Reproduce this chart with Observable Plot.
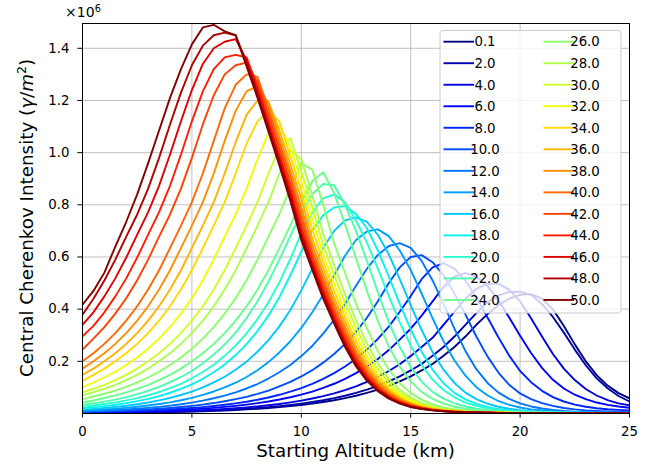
<!DOCTYPE html>
<html><head><meta charset="utf-8">
<script src="https://cdn.jsdelivr.net/npm/d3@7"></script>
<script src="https://cdn.jsdelivr.net/npm/@observablehq/plot@0.6"></script>
<style>body{margin:0;background:#fff;} svg{display:block;}</style>
</head><body><div id="chart"></div>
<script>
// Starting altitude (km)
const altitude = [0,0.5,1,1.5,2,2.5,3,3.5,4,4.5,5,5.5,6,6.5,7,7.5,8,8.5,9,9.5,10,10.5,11,11.5,12,12.5,13,13.5,14,14.5,15,15.5,16,16.5,17,17.5,18,18.5,19,19.5,20,20.5,21,21.5,22,22.5,23,23.5,24,24.5,25];
const xTicks = [0,5,10,15,20,25];
const yTicks = [0.2,0.4,0.6,0.8,1.0,1.2,1.4];
const seriesLabels = ["0.1","2.0","4.0","6.0","8.0","10.0","12.0","14.0","16.0","18.0","20.0","22.0","24.0","26.0","28.0","30.0","32.0","34.0","36.0","38.0","40.0","42.0","44.0","46.0","48.0","50.0"];

// Central Cherenkov intensity, units of 1e6 photons/m^2
const s0_1 = [0.0017,0.002,0.0023,0.0027,0.0031,0.0036,0.0042,0.0048,0.0056,0.0065,0.0075,0.0087,0.0101,0.0117,0.0136,0.0157,0.0182,0.021,0.0244,0.0282,0.0327,0.0379,0.0439,0.0508,0.059,0.0682,0.079,0.0915,0.106,0.123,0.142,0.165,0.19,0.221,0.255,0.295,0.34,0.38,0.415,0.44,0.455,0.458,0.44,0.4,0.335,0.265,0.2,0.147,0.107,0.078,0.058];
const s2 = [0.002,0.0023,0.0027,0.0031,0.0036,0.0042,0.0048,0.0056,0.0065,0.0075,0.0087,0.0101,0.0117,0.0136,0.0157,0.0182,0.021,0.0244,0.0282,0.0327,0.0379,0.0439,0.0508,0.059,0.0682,0.079,0.0915,0.106,0.123,0.142,0.165,0.19,0.221,0.255,0.295,0.34,0.385,0.425,0.452,0.466,0.467,0.455,0.42,0.37,0.31,0.245,0.185,0.135,0.097,0.067,0.046];
const s4 = [0.0025,0.0029,0.0034,0.0039,0.0045,0.0053,0.0061,0.0071,0.0082,0.0095,0.011,0.0128,0.015,0.0174,0.0202,0.0235,0.0272,0.0316,0.0366,0.0426,0.0494,0.0574,0.0666,0.077,0.0897,0.104,0.121,0.14,0.163,0.189,0.22,0.255,0.29,0.34,0.39,0.44,0.478,0.497,0.498,0.475,0.43,0.365,0.295,0.228,0.172,0.128,0.094,0.069,0.051,0.039,0.031];
const s6 = [0.0035,0.0041,0.0047,0.0055,0.0064,0.0075,0.0087,0.0101,0.0118,0.0137,0.016,0.0186,0.0216,0.0252,0.0292,0.034,0.0396,0.046,0.0536,0.0622,0.0725,0.084,0.098,0.114,0.133,0.155,0.18,0.209,0.243,0.283,0.325,0.375,0.43,0.485,0.525,0.538,0.525,0.49,0.435,0.368,0.298,0.232,0.175,0.129,0.096,0.072,0.055,0.042,0.033,0.027,0.022];
const s8 = [0.0045,0.0052,0.0061,0.0071,0.0083,0.0097,0.0113,0.0132,0.0154,0.018,0.021,0.0245,0.0285,0.0333,0.0388,0.0452,0.0527,0.0615,0.0717,0.0836,0.0975,0.114,0.133,0.155,0.18,0.21,0.245,0.286,0.333,0.39,0.45,0.515,0.56,0.576,0.555,0.51,0.445,0.37,0.293,0.222,0.163,0.12,0.087,0.063,0.046,0.034,0.026,0.02,0.0163,0.0137,0.012];
const s10 = [0.006,0.007,0.0082,0.0096,0.0113,0.0132,0.0155,0.0182,0.0213,0.025,0.0293,0.0342,0.04,0.047,0.055,0.064,0.075,0.088,0.104,0.121,0.142,0.166,0.195,0.228,0.267,0.313,0.367,0.43,0.5,0.56,0.6,0.607,0.58,0.53,0.46,0.38,0.295,0.22,0.158,0.11,0.077,0.055,0.04,0.029,0.021,0.016,0.012,0.0098,0.0083,0.0073,0.0065];
const s12 = [0.008,0.0094,0.0111,0.0131,0.0155,0.0183,0.0216,0.0255,0.0301,0.0355,0.0419,0.0494,0.0583,0.0688,0.0812,0.0959,0.113,0.134,0.158,0.186,0.22,0.259,0.306,0.36,0.42,0.49,0.555,0.608,0.642,0.653,0.635,0.585,0.51,0.42,0.325,0.24,0.17,0.118,0.081,0.056,0.039,0.027,0.019,0.0135,0.0097,0.0072,0.0055,0.0044,0.0037,0.0032,0.0028];
const s14 = [0.011,0.013,0.0155,0.0183,0.0217,0.0257,0.0305,0.0362,0.0428,0.0508,0.0601,0.0712,0.0844,0.1,0.118,0.14,0.166,0.197,0.234,0.277,0.328,0.388,0.455,0.53,0.605,0.665,0.698,0.706,0.68,0.625,0.55,0.46,0.365,0.277,0.203,0.145,0.101,0.07,0.048,0.033,0.023,0.016,0.0115,0.0084,0.0063,0.0049,0.004,0.0034,0.003,0.0027,0.0025];
const s16 = [0.015,0.0178,0.0212,0.0252,0.0299,0.0356,0.0422,0.0502,0.0596,0.0708,0.0841,0.1,0.119,0.141,0.168,0.199,0.237,0.281,0.334,0.397,0.472,0.555,0.635,0.70,0.74,0.752,0.735,0.685,0.61,0.515,0.415,0.32,0.235,0.168,0.117,0.08,0.055,0.038,0.026,0.018,0.0128,0.0093,0.007,0.0055,0.0045,0.0038,0.0033,0.0029,0.0026,0.0024,0.0022];
const s18 = [0.02,0.0238,0.0283,0.0336,0.0399,0.0474,0.0563,0.0669,0.0795,0.0945,0.112,0.133,0.158,0.188,0.224,0.266,0.316,0.375,0.446,0.53,0.62,0.70,0.76,0.79,0.795,0.765,0.71,0.625,0.525,0.42,0.322,0.237,0.168,0.116,0.079,0.054,0.037,0.025,0.017,0.012,0.0088,0.0067,0.0052,0.0043,0.0036,0.0031,0.0027,0.0024,0.0022,0.002,0.0018];
const s20 = [0.026,0.0307,0.0362,0.0426,0.0502,0.0592,0.0698,0.0823,0.097,0.114,0.135,0.159,0.187,0.221,0.26,0.307,0.362,0.426,0.503,0.593,0.69,0.77,0.825,0.84,0.81,0.74,0.655,0.555,0.45,0.35,0.26,0.186,0.13,0.09,0.062,0.042,0.029,0.02,0.014,0.01,0.0075,0.0058,0.0046,0.0038,0.0032,0.0028,0.0025,0.0022,0.002,0.0018,0.0017];
const s22 = [0.033,0.039,0.0456,0.053,0.063,0.074,0.087,0.102,0.12,0.14,0.163,0.193,0.226,0.265,0.31,0.366,0.43,0.505,0.59,0.68,0.77,0.84,0.88,0.875,0.8,0.7,0.585,0.465,0.35,0.255,0.178,0.122,0.083,0.057,0.039,0.027,0.0185,0.013,0.0093,0.007,0.0054,0.0044,0.0037,0.0031,0.0027,0.0024,0.0021,0.0019,0.0018,0.0016,0.0015];
const s24 = [0.042,0.05,0.0595,0.0695,0.081,0.0945,0.11,0.128,0.148,0.172,0.2,0.231,0.267,0.308,0.356,0.411,0.475,0.549,0.634,0.72,0.81,0.89,0.925,0.845,0.725,0.595,0.47,0.355,0.257,0.18,0.123,0.083,0.056,0.038,0.026,0.018,0.0125,0.009,0.0067,0.0052,0.0042,0.0037,0.0031,0.0027,0.0024,0.0021,0.0019,0.0018,0.0016,0.0015,0.0014];
const s26 = [0.054,0.0653,0.0758,0.088,0.102,0.119,0.138,0.16,0.186,0.215,0.248,0.287,0.331,0.383,0.442,0.511,0.59,0.678,0.765,0.865,0.96,0.935,0.8,0.653,0.539,0.42,0.326,0.239,0.168,0.116,0.079,0.053,0.035,0.023,0.016,0.011,0.0078,0.0057,0.0043,0.0034,0.0028,0.0024,0.0021,0.0019,0.0017,0.0016,0.0015,0.0014,0.0013,0.0012,0.0012];
const s28 = [0.07,0.0816,0.0948,0.11,0.128,0.148,0.172,0.2,0.231,0.267,0.308,0.356,0.411,0.475,0.549,0.634,0.72,0.81,0.92,1.01,0.975,0.837,0.689,0.568,0.457,0.359,0.269,0.191,0.133,0.091,0.061,0.041,0.027,0.018,0.0125,0.0088,0.0063,0.0048,0.0037,0.003,0.0025,0.0022,0.002,0.0018,0.0017,0.0016,0.0015,0.0014,0.0013,0.0012,0.0012];
const s30 = [0.081,0.0948,0.11,0.128,0.148,0.172,0.2,0.231,0.267,0.308,0.356,0.411,0.475,0.549,0.634,0.72,0.81,0.92,1.02,1.055,0.929,0.791,0.646,0.532,0.424,0.33,0.242,0.17,0.118,0.08,0.054,0.036,0.024,0.016,0.0113,0.008,0.0058,0.0044,0.0035,0.0028,0.0024,0.0021,0.0019,0.0017,0.0016,0.0015,0.0014,0.0013,0.0012,0.0012,0.0011];
const s32 = [0.1,0.119,0.138,0.16,0.186,0.215,0.248,0.287,0.331,0.383,0.442,0.511,0.59,0.678,0.763,0.862,0.975,1.075,1.105,1.02,0.89,0.746,0.61,0.497,0.394,0.302,0.218,0.152,0.105,0.071,0.048,0.032,0.0212,0.0147,0.0102,0.0073,0.0053,0.0041,0.0032,0.0026,0.0022,0.002,0.0018,0.0016,0.0015,0.0014,0.0013,0.0012,0.0012,0.0011,0.001];
const s34 = [0.124,0.148,0.172,0.2,0.231,0.267,0.308,0.356,0.411,0.475,0.549,0.634,0.72,0.81,0.92,1.035,1.12,1.16,1.12,0.986,0.854,0.707,0.581,0.47,0.37,0.279,0.2,0.139,0.095,0.064,0.043,0.029,0.0195,0.0135,0.0095,0.0068,0.005,0.0039,0.0031,0.0025,0.0022,0.0019,0.0017,0.0016,0.0014,0.0013,0.0013,0.0012,0.0012,0.0011,0.001];
const s36 = [0.148,0.172,0.2,0.231,0.267,0.308,0.356,0.411,0.475,0.549,0.634,0.72,0.81,0.92,1.04,1.145,1.2,1.195,1.085,0.955,0.821,0.671,0.555,0.444,0.349,0.258,0.183,0.127,0.087,0.058,0.039,0.026,0.0175,0.0122,0.0087,0.0062,0.0046,0.0036,0.0029,0.0024,0.0021,0.0019,0.0017,0.0015,0.0014,0.0013,0.0013,0.0012,0.0011,0.0011,0.001];
const s38 = [0.172,0.2,0.231,0.267,0.308,0.356,0.411,0.475,0.549,0.634,0.72,0.81,0.92,1.045,1.16,1.235,1.255,1.189,1.059,0.929,0.791,0.646,0.532,0.424,0.33,0.242,0.17,0.118,0.08,0.054,0.036,0.024,0.016,0.0113,0.008,0.0058,0.0043,0.0033,0.0027,0.0023,0.002,0.0018,0.0016,0.0015,0.0014,0.0013,0.0012,0.0012,0.0011,0.0011,0.001];
const s40 = [0.2,0.231,0.267,0.308,0.356,0.411,0.475,0.549,0.634,0.72,0.81,0.92,1.045,1.17,1.26,1.30,1.29,1.166,1.036,0.907,0.764,0.624,0.511,0.406,0.313,0.228,0.16,0.11,0.0745,0.05,0.033,0.022,0.015,0.0105,0.0075,0.0055,0.0041,0.0032,0.0026,0.0022,0.0019,0.0017,0.0016,0.0014,0.0013,0.0013,0.0012,0.0012,0.0011,0.0011,0.001];
const s42 = [0.245,0.287,0.331,0.383,0.442,0.511,0.59,0.678,0.763,0.862,0.98,1.108,1.22,1.30,1.335,1.345,1.27,1.145,1.015,0.885,0.74,0.605,0.493,0.39,0.298,0.215,0.15,0.103,0.07,0.047,0.031,0.021,0.0145,0.01,0.0072,0.0052,0.004,0.0031,0.0025,0.0022,0.0019,0.0017,0.0015,0.0014,0.0013,0.0013,0.0012,0.0012,0.0011,0.0011,0.001];
const s44 = [0.296,0.336,0.388,0.449,0.518,0.598,0.686,0.772,0.873,0.993,1.12,1.235,1.32,1.365,1.375,1.365,1.251,1.124,0.994,0.863,0.716,0.587,0.476,0.376,0.284,0.204,0.142,0.097,0.066,0.044,0.029,0.02,0.0137,0.0096,0.0069,0.0051,0.0039,0.0031,0.0025,0.0021,0.0019,0.0017,0.0015,0.0014,0.0013,0.0013,0.0012,0.0011,0.0011,0.001,0.001];
const s46 = [0.34,0.388,0.449,0.518,0.598,0.686,0.772,0.873,0.993,1.12,1.24,1.34,1.40,1.425,1.435,1.354,1.234,1.106,0.976,0.843,0.695,0.572,0.461,0.363,0.272,0.194,0.135,0.092,0.062,0.042,0.0274,0.0186,0.013,0.0091,0.0065,0.0049,0.0037,0.003,0.0024,0.0021,0.0018,0.0016,0.0015,0.0014,0.0013,0.0012,0.0012,0.0011,0.0011,0.001,0.001];
const s48 = [0.379,0.44,0.51,0.59,0.678,0.763,0.862,0.98,1.108,1.23,1.335,1.41,1.45,1.46,1.45,1.342,1.222,1.093,0.963,0.829,0.68,0.561,0.451,0.354,0.264,0.187,0.13,0.089,0.06,0.04,0.026,0.018,0.0125,0.0088,0.0062,0.0047,0.0036,0.0029,0.0024,0.002,0.0018,0.0016,0.0015,0.0014,0.0013,0.0012,0.0012,0.0011,0.0011,0.001,0.001];
const s50 = [0.417,0.47,0.54,0.64,0.735,0.84,0.96,1.085,1.21,1.32,1.415,1.48,1.49,1.465,1.45,1.33,1.21,1.08,0.95,0.815,0.665,0.55,0.44,0.345,0.255,0.18,0.125,0.085,0.057,0.038,0.025,0.017,0.012,0.0085,0.006,0.0045,0.0035,0.0028,0.0023,0.002,0.0018,0.0016,0.0015,0.0014,0.0013,0.0012,0.0012,0.0011,0.0011,0.001,0.001];

const seriesValues = [s0_1,s2,s4,s6,s8,s10,s12,s14,s16,s18,s20,s22,s24,s26,s28,s30,s32,s34,s36,s38,s40,s42,s44,s46,s48,s50];

// matplotlib "jet" colormap
const JET = {
  r: [[0,0],[0.35,0],[0.66,1],[0.89,1],[1,0.5]],
  g: [[0,0],[0.125,0],[0.375,1],[0.64,1],[0.91,0],[1,0]],
  b: [[0,0.5],[0.11,1],[0.34,1],[0.65,0],[1,0]]
};
function seg(pts, t) {
  for (let i = 1; i < pts.length; i++) {
    if (t <= pts[i][0]) {
      const [x0, y0] = pts[i-1], [x1, y1] = pts[i];
      return y0 + (y1 - y0) * (t - x0) / (x1 - x0);
    }
  }
  return pts[pts.length-1][1];
}
function jet(t) {
  return d3.rgb(seg(JET.r,t)*255, seg(JET.g,t)*255, seg(JET.b,t)*255).formatHex();
}
const colors = seriesLabels.map((_, k) => jet(k / (seriesLabels.length - 1)));

const W = 661, H = 472, mL = 82, mR = 32, mT = 23, mB = 59;
const FONT = "DejaVu Sans";
const LW = 1.9;

const marks = [
  Plot.gridX(xTicks.slice(1, -1), {stroke: "#b0b0b0", strokeOpacity: 1, strokeWidth: 0.8}),
  Plot.gridY(yTicks, {stroke: "#b0b0b0", strokeOpacity: 1, strokeWidth: 0.8})
];
seriesLabels.forEach((lab, k) => {
  const rows = altitude.map((x, i) => ({x, y: seriesValues[k][i]}));
  marks.push(Plot.line(rows, {x: "x", y: "y", stroke: colors[k], strokeWidth: LW, clip: true}));
});
marks.push(Plot.frame({stroke: "black", strokeWidth: 1}));
marks.push(Plot.axisX(xTicks, {tickSize: 4.6, tickPadding: 8.5, fontSize: 13.3, label: null}));
marks.push(Plot.axisY(yTicks, {tickSize: 4.6, tickPadding: 8.5, fontSize: 13.3, tickFormat: d3.format(".1f"), label: null}));

const svg = Plot.plot({
  width: W, height: H,
  marginLeft: mL, marginRight: mR, marginTop: mT, marginBottom: mB,
  x: {domain: [0, 25]},
  y: {domain: [0, 1.495]},
  style: {fontFamily: FONT, color: "black", background: "white", overflow: "visible"},
  marks
});
document.getElementById("chart").appendChild(svg);

const s = d3.select(svg);
// x label
s.append("text").attr("x", (mL + W - mR) / 2).attr("y", 457)
  .attr("text-anchor", "middle").attr("font-family", FONT).attr("font-size", 18.3)
  .attr("fill", "black").text("Starting Altitude (km)");
// y label
const yl = s.append("text").attr("transform", `translate(32.5,${(mT + H - mB) / 2}) rotate(-90)`)
  .attr("text-anchor", "middle").attr("font-family", FONT).attr("font-size", 18.3).attr("fill", "black");
yl.append("tspan").text("Central Cherenkov Intensity (");
yl.append("tspan").attr("font-style", "italic").text("γ");
yl.append("tspan").text("/");
yl.append("tspan").attr("font-style", "italic").text("m");
yl.append("tspan").attr("font-size", 12.5).attr("dy", -7).text("2");
yl.append("tspan").attr("dy", 7).text(")");
// offset text
const ot = s.append("text").attr("x", 83).attr("y", 17).attr("font-family", FONT)
  .attr("font-size", 14).attr("fill", "black");
ot.append("tspan").text("×10");
ot.append("tspan").attr("font-size", 9.8).attr("dy", -5.5).text("6");

// legend
const lg = s.append("g");
const lgX = 440, lgY = 30.5, lgW = 181, lgH = 282.5;
lg.append("rect").attr("x", lgX).attr("y", lgY).attr("width", lgW).attr("height", lgH)
  .attr("rx", 3).attr("fill", "white").attr("fill-opacity", 0.8)
  .attr("stroke", "#cccccc").attr("stroke-width", 1);
const perCol = 13, rowStep = 21.52, row0 = 41.7;
const cols = [{lx0: 443.5, lx1: 474, tx: 485}, {lx0: 543.5, lx1: 574, tx: 585}];
seriesLabels.forEach((lab, k) => {
  const c = cols[Math.floor(k / perCol)];
  const yy = row0 + (k % perCol) * rowStep;
  lg.append("line").attr("x1", c.lx0).attr("x2", c.lx1).attr("y1", yy).attr("y2", yy)
    .attr("stroke", colors[k]).attr("stroke-width", LW);
  lg.append("text").attr("x", c.tx).attr("y", yy).attr("dy", "0.36em")
    .attr("font-family", FONT).attr("font-size", 13.3).attr("fill", "black").text(lab);
});
</script>
</body></html>
